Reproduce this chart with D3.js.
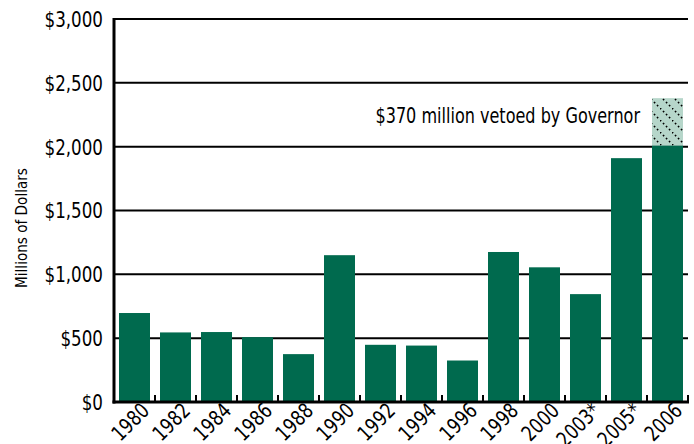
<!DOCTYPE html>
<html><head><meta charset="utf-8">
<script src="https://cdn.jsdelivr.net/npm/d3@7/dist/d3.min.js"></script>
<style>
body{margin:0;background:#fff;}
svg text{font-family:"DejaVu Sans",sans-serif;fill:#000;}
</style></head>
<body>
<svg id="c" width="694" height="444"></svg>
<script>
const categories = ["1980","1982","1984","1986","1988","1990","1992","1994","1996","1998","2000","2003*","2005*","2006"];
const values = [697, 545, 548, 508, 375, 1150, 448, 442, 325, 1175, 1055, 845, 1910, 2010];
const vetoed = [0,0,0,0,0,0,0,0,0,0,0,0,0,370];
const yTicks = [0, 500, 1000, 1500, 2000, 2500, 3000];
const yTitle = "Millions of Dollars";
const note = "$370 million vetoed by Governor";

const svg = d3.select("#c");
const L = 114, R = 688, T = 19, B = 402;
const x = d3.scaleBand().domain(categories).range([L, R]).paddingInner(0.244).paddingOuter(0.122);
const y = d3.scaleLinear().domain([0, 3000]).range([B, T]);
const fmt = d => "$" + d3.format(",")(d);

const defs = svg.append("defs");
const pat = defs.append("pattern").attr("id","hatch").attr("patternUnits","userSpaceOnUse")
  .attr("width",12).attr("height",12);
pat.append("rect").attr("width",12).attr("height",12).attr("fill","#b6d6ca");
pat.append("line").attr("x1",0).attr("y1",0).attr("x2",12).attr("y2",12)
  .attr("stroke","#000").attr("stroke-width",1.6).attr("stroke-dasharray","1.6 2.64");

svg.append("g").selectAll("line").data(yTicks.filter(d=>d>0)).join("line")
  .attr("x1", L).attr("x2", R).attr("y1", d=>y(d)).attr("y2", d=>y(d))
  .attr("stroke","#000").attr("stroke-width",2);

svg.append("g").selectAll("rect").data(categories).join("rect")
  .attr("x", d=>x(d)).attr("width", x.bandwidth())
  .attr("y", (d,i)=>y(values[i])).attr("height", (d,i)=>B - y(values[i]))
  .attr("fill","#006a4e");
svg.append("g").selectAll("rect").data(categories.filter((d,i)=>vetoed[i]>0)).join("rect")
  .attr("x", d=>x(d)).attr("width", x.bandwidth())
  .attr("y", d=>{const i=categories.indexOf(d); return y(values[i]+vetoed[i]);})
  .attr("height", d=>{const i=categories.indexOf(d); return y(values[i]) - y(values[i]+vetoed[i]);})
  .attr("fill","url(#hatch)");

svg.append("text").attr("transform",`translate(640,123) scale(0.73,1)`).attr("text-anchor","end")
  .attr("font-size", 22).text(note);

svg.append("line").attr("x1",L).attr("x2",L).attr("y1",T-1).attr("y2",B+1.5)
  .attr("stroke","#000").attr("stroke-width",3);
svg.append("line").attr("x1",L-1.5).attr("x2",R+1).attr("y1",B).attr("y2",B)
  .attr("stroke","#000").attr("stroke-width",3);
const step = x.step();
svg.append("g").selectAll("line").data(categories).join("line")
  .attr("x1", d=>x(d)+x.bandwidth()+(step-x.bandwidth())/2)
  .attr("x2", d=>x(d)+x.bandwidth()+(step-x.bandwidth())/2)
  .attr("y1", B).attr("y2", B-7).attr("stroke","#000").attr("stroke-width",2);

svg.append("g").selectAll("text").data(yTicks).join("text")
  .attr("transform", d=>`translate(103,${y(d)}) scale(0.76,1)`)
  .attr("dy","0.36em").attr("text-anchor","end")
  .attr("font-size", 22).text(fmt);

svg.append("g").selectAll("text").data(categories).join("text")
  .attr("text-anchor","end").attr("font-size",21)
  .attr("transform", d=>`translate(${x(d)+x.bandwidth()/2+16},${B+10}) rotate(-45) scale(0.8,1)`)
  .text(d=>d);

svg.append("text").attr("transform",`translate(27,228) rotate(-90) scale(0.85,1)`)
  .attr("text-anchor","middle").attr("font-size",16).text(yTitle);
</script>
</body></html>
